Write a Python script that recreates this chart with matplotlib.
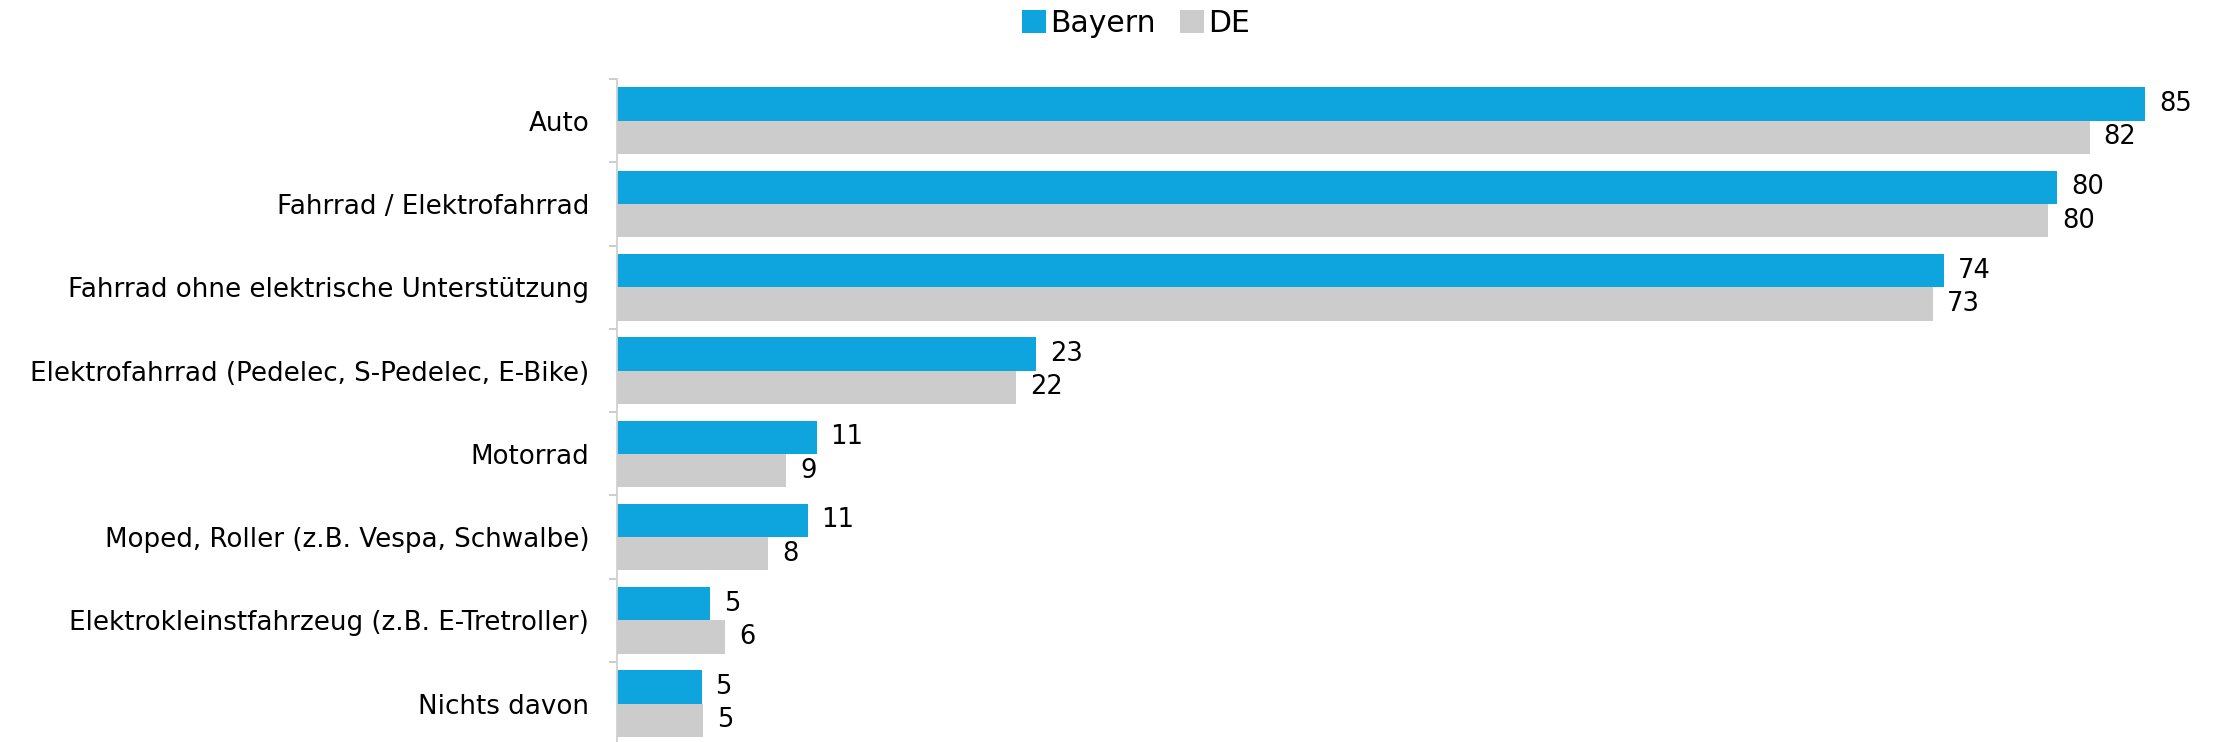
import matplotlib
matplotlib.use("Agg")
import matplotlib.pyplot as plt
import numpy as np

categories = ["Auto", "Fahrrad / Elektrofahrrad", "Fahrrad ohne elektrische Unterstützung",
              "Elektrofahrrad (Pedelec, S-Pedelec, E-Bike)", "Motorrad",
              "Moped, Roller (z.B. Vespa, Schwalbe)", "Elektrokleinstfahrzeug (z.B. E-Tretroller)",
              "Nichts davon"]
bayern = [85.0, 80.1, 73.8, 23.3, 11.1, 10.6, 5.2, 4.7]
de = [81.9, 79.6, 73.2, 22.2, 9.4, 8.4, 6.0, 4.8]

blue = "#0EA5DF"
grey = "#CCCCCC"

plt.rcParams['font.family'] = ['DejaVu Sans']

fig = plt.figure(figsize=(22.16, 7.42), dpi=100)
ax = fig.add_axes([617/2216, -3.4/742, 1599/2216, 666.4/742])

y = np.arange(len(categories))
h = 0.4
ax.barh(y - h/2, bayern, height=h, color=blue, label="Bayern")
ax.barh(y + h/2, de, height=h, color=grey, label="DE")

for i in range(len(categories)):
    ax.annotate("%d" % round(bayern[i]), (bayern[i], y[i] - h/2), xytext=(10, 0),
                textcoords="offset points", va="center", ha="left", fontsize=18.5)
    ax.annotate("%d" % round(de[i]), (de[i], y[i] + h/2), xytext=(10, 0),
                textcoords="offset points", va="center", ha="left", fontsize=18.5)

ax.set_xlim(0, 1599/17.98)
ax.set_ylim(len(categories) - 0.5, -0.5)

ax.set_yticks(y)
ax.set_yticklabels(categories, fontsize=18.8)
ax.set_yticks(np.arange(len(categories) + 1) - 0.5, minor=True)
ax.tick_params(axis="y", which="major", length=0, pad=20)
ax.tick_params(axis="y", which="minor", length=6, color="#C8C8C8", width=1.3)
ax.xaxis.set_visible(False)
for s in ["top", "right", "bottom"]:
    ax.spines[s].set_visible(False)
ax.spines["left"].set_color("#D0D0D0")
ax.spines["left"].set_linewidth(1.3)

fig.legend(loc="center", bbox_to_anchor=(1136/2216, 1 - 23/742), ncol=2, frameon=False,
           fontsize=21.5, handlelength=0.8, handleheight=0.8, handletextpad=0.15, columnspacing=0.8)

fig.savefig("out.png", dpi=100)
